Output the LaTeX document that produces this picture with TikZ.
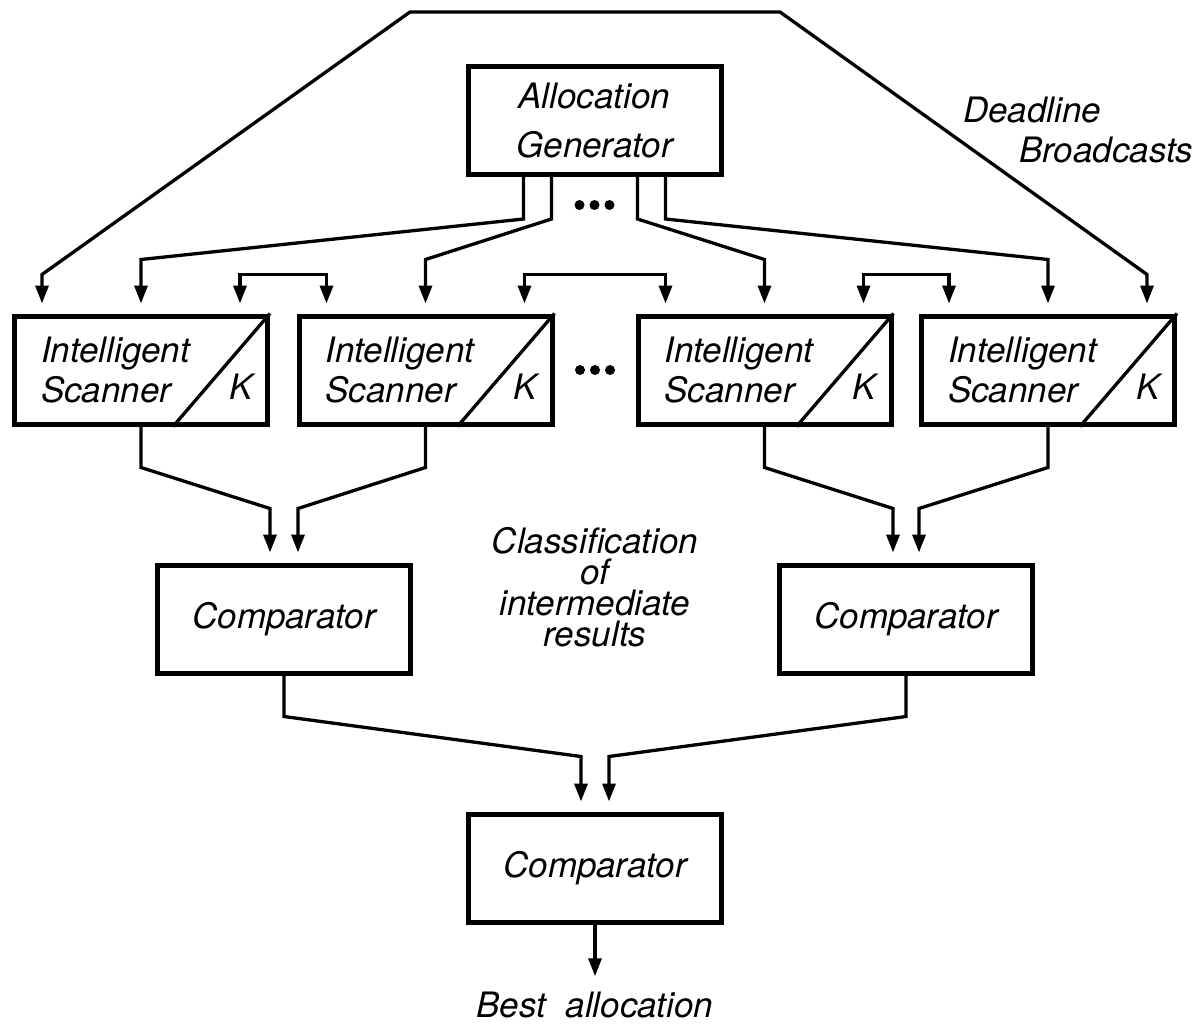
\documentclass[tikz,border=0pt]{standalone}
\usepackage{fontspec}
\setmainfont{TeX Gyre Heros}
\usetikzlibrary{arrows.meta,calc}

\begin{document}
\begin{tikzpicture}[x=1pt,y=-1pt,
  box/.style={draw, line width=5pt, minimum width=253pt, minimum height=108pt,
    inner sep=0pt, align=center, font=\itshape\fontsize{35}{40}\selectfont},
  scanner/.style={box, text width=200pt, align=left},
  note/.style={inner sep=0pt, font=\itshape\fontsize{35}{31}\selectfont},
  link/.style={line width=3.3pt},
  arr/.style={link, -{Triangle[length=18pt,width=13pt]}, shorten >=10pt},
  peer/.style={link, {Triangle[length=18pt,width=13pt]}-{Triangle[length=18pt,width=13pt]},
    shorten <=10pt, shorten >=10pt}]
\useasboundingbox (0,0) rectangle (1204,1025);

% generator
\node[box] (gen) at (594.5,120.5) {Allocation\\[9pt]Generator};

% scanners
\node[scanner] (s1) at (141,370) {Intelligent\\Scanner};
\node[scanner] (s2) at (425.5,370) {Intelligent\\Scanner};
\node[scanner] (s3) at (764.5,370) {Intelligent\\Scanner};
\node[scanner] (s4) at (1048,370) {Intelligent\\Scanner};
\foreach \s in {s1,s2,s3,s4} {
  \draw[link] (\s.north east) -- ($(\s.south east)+(-97,0)$);
  \node[note] (\s-k) at ($(\s.south east)+(-29,-40)$) {K};
}

% comparators
\node[box] (c1) at (284,619) {Comparator};
\node[box] (c2) at (906,619) {Comparator};
\node[box] (c3) at (595,868) {Comparator};

% texts
\node[note, anchor=base] (best) at (595,1017) {Best\ \ allocation};
\node[note, anchor=base west] (dead) at (963,122) {Deadline};
\node[note, anchor=base west] (bcast) at (1019,162) {Broadcasts};
\node[note, align=center, anchor=north] (classif) at (595,527) {Classification\\of\\intermediate\\results};

% dots
\foreach \x in {-15,0,15} {
  \fill ($(gen.south)+(\x,28)$) circle (5pt);
  \fill ($(s2.east)!0.5!(s3.west)+(\x,0)$) circle (5pt);
}

% deadline broadcasts
\coordinate (topl) at (410,12);
\coordinate (topr) at (780,12);
\draw[peer] ($(s1.north)+(-99,0)$) -- ++(0,-39) -- (topl) -- (topr)
  -- ($(s4.north)+(99,-39)$) -- ($(s4.north)+(99,0)$);

% generator to scanners
\draw[arr] ($(gen.south)+(-71,0)$) -- ++(0,42) -- ($(s1.north)+(0,-54)$) -- (s1.north);
\draw[arr] ($(gen.south)+(-43,0)$) -- ++(0,42) -- ($(s2.north)+(0,-54)$) -- (s2.north);
\draw[arr] ($(gen.south)+(43,0)$) -- ++(0,42) -- ($(s3.north)+(0,-54)$) -- (s3.north);
\draw[arr] ($(gen.south)+(71,0)$) -- ++(0,42) -- ($(s4.north)+(0,-54)$) -- (s4.north);

% neighbouring scanners
\draw[peer] ($(s1.north)+(99,0)$) -- ++(0,-39) -| ($(s2.north)+(-99,0)$);
\draw[peer] ($(s2.north)+(99,0)$) -- ++(0,-39) -| ($(s3.north)+(-99,0)$);
\draw[peer] ($(s3.north)+(99,0)$) -- ++(0,-39) -| ($(s4.north)+(-99,0)$);

% scanners to comparators
\draw[arr] (s1.south) -- ++(0,41) -- ($(c1.north)+(-14,-54)$) -- ($(c1.north)+(-14,0)$);
\draw[arr] (s2.south) -- ++(0,41) -- ($(c1.north)+(14,-54)$) -- ($(c1.north)+(14,0)$);
\draw[arr] (s3.south) -- ++(0,41) -- ($(c2.north)+(-13,-54)$) -- ($(c2.north)+(-13,0)$);
\draw[arr] (s4.south) -- ++(0,41) -- ($(c2.north)+(13,-54)$) -- ($(c2.north)+(13,0)$);

% comparators to final comparator
\draw[arr] (c1.south) -- ++(0,41) -- ($(c3.north)+(-14,-55)$) -- ($(c3.north)+(-14,0)$);
\draw[arr] (c2.south) -- ++(0,41) -- ($(c3.north)+(14,-55)$) -- ($(c3.north)+(14,0)$);
\draw[arr, shorten >=15pt] (c3.south) -- (best.north);
\end{tikzpicture}
\end{document}
